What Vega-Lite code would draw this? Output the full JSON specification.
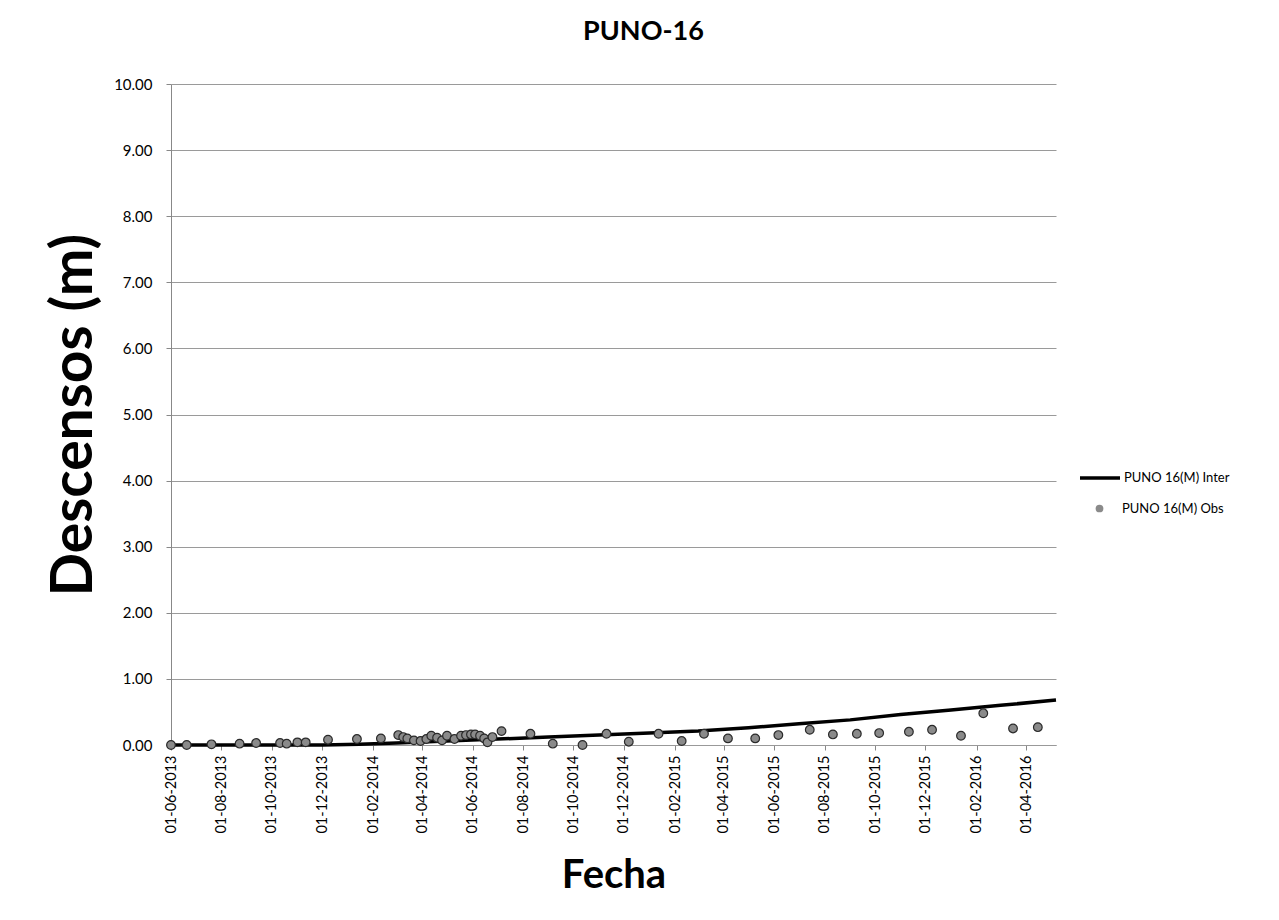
{
  "$schema": "https://vega.github.io/schema/vega-lite/v6.json",
  "width": 885,
  "height": 661,
  "padding": {"left": 45, "top": 18, "right": 5, "bottom": 5},
  "background": "white",
  "config": {
    "font": "Lato",
    "view": {"stroke": null},
    "axis": {"labelFont": "Lato", "titleFont": "Lato", "labelColor": "#000", "titleColor": "#000"}
  },
  "title": {"text": "PUNO-16", "fontSize": 27, "font": "Lato", "fontWeight": "bold", "color": "#000", "offset": 31, "dx": 30},
  "datasets": {
    "inter": [
      {"fecha": "2013-06-01", "valor": 0.0},
      {"fecha": "2013-08-01", "valor": 0.0},
      {"fecha": "2013-10-01", "valor": 0.0},
      {"fecha": "2013-12-01", "valor": 0.0},
      {"fecha": "2014-01-15", "valor": 0.01},
      {"fecha": "2014-03-01", "valor": 0.03},
      {"fecha": "2014-05-01", "valor": 0.06},
      {"fecha": "2014-07-01", "valor": 0.09},
      {"fecha": "2014-09-01", "valor": 0.12},
      {"fecha": "2014-11-01", "valor": 0.15},
      {"fecha": "2015-01-01", "valor": 0.18},
      {"fecha": "2015-03-01", "valor": 0.21},
      {"fecha": "2015-05-01", "valor": 0.26},
      {"fecha": "2015-07-01", "valor": 0.32},
      {"fecha": "2015-09-01", "valor": 0.38},
      {"fecha": "2015-11-01", "valor": 0.46},
      {"fecha": "2016-01-01", "valor": 0.53},
      {"fecha": "2016-03-01", "valor": 0.60},
      {"fecha": "2016-05-07", "valor": 0.68}
    ],
    "obs": [
      {"fecha": "2013-06-01", "valor": 0.0},
      {"fecha": "2013-06-20", "valor": 0.0},
      {"fecha": "2013-07-20", "valor": 0.01},
      {"fecha": "2013-08-23", "valor": 0.02},
      {"fecha": "2013-09-12", "valor": 0.03},
      {"fecha": "2013-10-11", "valor": 0.03},
      {"fecha": "2013-10-19", "valor": 0.02},
      {"fecha": "2013-11-01", "valor": 0.04},
      {"fecha": "2013-11-11", "valor": 0.04},
      {"fecha": "2013-12-08", "valor": 0.08},
      {"fecha": "2014-01-12", "valor": 0.09},
      {"fecha": "2014-02-10", "valor": 0.10},
      {"fecha": "2014-03-03", "valor": 0.15},
      {"fecha": "2014-03-09", "valor": 0.12},
      {"fecha": "2014-03-14", "valor": 0.10},
      {"fecha": "2014-03-22", "valor": 0.07},
      {"fecha": "2014-03-30", "valor": 0.06},
      {"fecha": "2014-04-06", "valor": 0.09},
      {"fecha": "2014-04-12", "valor": 0.14},
      {"fecha": "2014-04-19", "valor": 0.11},
      {"fecha": "2014-04-25", "valor": 0.07},
      {"fecha": "2014-05-01", "valor": 0.14},
      {"fecha": "2014-05-10", "valor": 0.09},
      {"fecha": "2014-05-18", "valor": 0.14},
      {"fecha": "2014-05-24", "valor": 0.15},
      {"fecha": "2014-05-30", "valor": 0.16},
      {"fecha": "2014-06-04", "valor": 0.16},
      {"fecha": "2014-06-10", "valor": 0.14},
      {"fecha": "2014-06-15", "valor": 0.10},
      {"fecha": "2014-06-19", "valor": 0.04},
      {"fecha": "2014-06-25", "valor": 0.12},
      {"fecha": "2014-07-06", "valor": 0.21},
      {"fecha": "2014-08-10", "valor": 0.17},
      {"fecha": "2014-09-06", "valor": 0.02},
      {"fecha": "2014-10-12", "valor": 0.0},
      {"fecha": "2014-11-10", "valor": 0.17},
      {"fecha": "2014-12-07", "valor": 0.05},
      {"fecha": "2015-01-12", "valor": 0.17},
      {"fecha": "2015-02-09", "valor": 0.06},
      {"fecha": "2015-03-08", "valor": 0.17},
      {"fecha": "2015-04-06", "valor": 0.10},
      {"fecha": "2015-05-09", "valor": 0.10},
      {"fecha": "2015-06-06", "valor": 0.15},
      {"fecha": "2015-07-14", "valor": 0.23},
      {"fecha": "2015-08-11", "valor": 0.16},
      {"fecha": "2015-09-09", "valor": 0.17},
      {"fecha": "2015-10-06", "valor": 0.18},
      {"fecha": "2015-11-11", "valor": 0.20},
      {"fecha": "2015-12-09", "valor": 0.23},
      {"fecha": "2016-01-13", "valor": 0.14},
      {"fecha": "2016-02-09", "valor": 0.48},
      {"fecha": "2016-03-16", "valor": 0.25},
      {"fecha": "2016-04-15", "valor": 0.27}
    ]
  },
  "encoding": {
    "x": {
      "field": "fecha",
      "type": "temporal",
      "scale": {
        "type": "utc",
        "domain": [
          {"year": 2013, "month": 6, "date": 1, "utc": true},
          {"year": 2016, "month": 5, "date": 7, "utc": true}
        ]
      },
      "axis": {
        "title": "Fecha",
        "titleFontSize": 40,
        "titleFontWeight": "bold",
        "titlePadding": 22,
        "labelExpr": "utcFormat(datum.value, '%d-%m-%Y')",
        "labelAngle": -90,
        "labelFontSize": 14.5,
        "labelPadding": 5,
        "tickSize": 5,
        "tickColor": "#888",
        "domainColor": "#999",
        "grid": false,
        "labelOverlap": false,
        "values": [
          {"year": 2013, "month": 6, "date": 1, "utc": true},
          {"year": 2013, "month": 8, "date": 1, "utc": true},
          {"year": 2013, "month": 10, "date": 1, "utc": true},
          {"year": 2013, "month": 12, "date": 1, "utc": true},
          {"year": 2014, "month": 2, "date": 1, "utc": true},
          {"year": 2014, "month": 4, "date": 1, "utc": true},
          {"year": 2014, "month": 6, "date": 1, "utc": true},
          {"year": 2014, "month": 8, "date": 1, "utc": true},
          {"year": 2014, "month": 10, "date": 1, "utc": true},
          {"year": 2014, "month": 12, "date": 1, "utc": true},
          {"year": 2015, "month": 2, "date": 1, "utc": true},
          {"year": 2015, "month": 4, "date": 1, "utc": true},
          {"year": 2015, "month": 6, "date": 1, "utc": true},
          {"year": 2015, "month": 8, "date": 1, "utc": true},
          {"year": 2015, "month": 10, "date": 1, "utc": true},
          {"year": 2015, "month": 12, "date": 1, "utc": true},
          {"year": 2016, "month": 2, "date": 1, "utc": true},
          {"year": 2016, "month": 4, "date": 1, "utc": true}
        ]
      }
    },
    "y": {
      "field": "valor",
      "type": "quantitative",
      "scale": {"domain": [0, 10], "nice": false},
      "axis": {
        "title": "Descensos (m)",
        "titleFontSize": 57,
        "titleFontWeight": "bold",
        "titlePadding": 10,
        "format": ".2f",
        "values": [0, 1, 2, 3, 4, 5, 6, 7, 8, 9, 10],
        "labelOverlap": false,
        "labelFontSize": 15,
        "labelPadding": 14,
        "tickSize": 5,
        "tickColor": "#888",
        "domainColor": "#888",
        "grid": true,
        "gridColor": "#9a9a9a",
        "gridWidth": 1
      }
    }
  },
  "layer": [
    {
      "data": {"name": "inter"},
      "mark": {"type": "line", "color": "black", "strokeWidth": 3.5},
      "encoding": {
        "color": {
          "datum": "PUNO 16(M) Inter",
          "type": "nominal",
          "scale": {"range": ["black"]},
          "legend": {
            "title": null,
            "orient": "none",
            "legendX": 907,
            "legendY": 372,
            "padding": 0,
            "symbolSize": 1600,
            "symbolStrokeWidth": 3.5,
            "symbolType": "stroke",
            "labelFontSize": 13,
            "labelFont": "Lato",
            "labelColor": "#000",
            "labelOffset": 2
          }
        }
      }
    },
    {
      "data": {"name": "obs"},
      "mark": {"type": "point", "filled": true, "fill": "#8a8a8a", "stroke": "#2a2a2a", "strokeWidth": 1.2, "size": 75, "opacity": 1},
      "encoding": {
        "shape": {
          "datum": "PUNO 16(M) Obs",
          "type": "nominal",
          "scale": {"range": ["circle"]},
          "legend": {
            "title": null,
            "orient": "none",
            "legendX": 922,
            "legendY": 418,
            "padding": 0,
            "symbolSize": 60,
            "symbolFillColor": "#8a8a8a",
            "symbolStrokeColor": "#2a2a2a",
            "symbolStrokeWidth": 1,
            "labelFontSize": 13,
            "labelFont": "Lato",
            "labelColor": "#000",
            "labelOffset": 16
          }
        }
      }
    }
  ]
}
